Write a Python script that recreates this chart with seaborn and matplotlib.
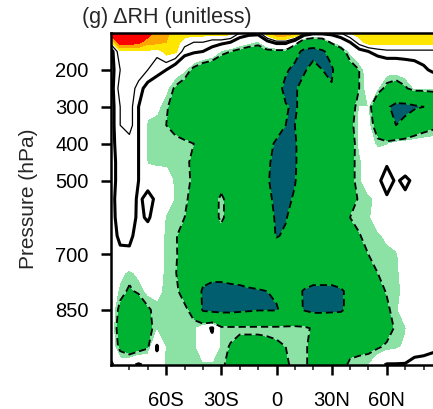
import numpy as np
import matplotlib
matplotlib.use("Agg")
import matplotlib.pyplot as plt
from matplotlib.colors import ListedColormap, BoundaryNorm
import seaborn as sns

# latitude columns (deg, S negative) and pressure levels (hPa)
lats = [-90, -85, -80, -75, -70, -65, -60, -55, -50, -45, -40, -35, -30, -25, -20, -15, -10, -5, 0,
        5, 10, 15, 20, 25, 30, 35, 40, 45, 50, 55, 60, 65, 70, 75, 80, 85, 90]
levels_hpa = [100, 125, 150, 200, 250, 300, 350, 400, 450, 500, 550, 600, 650, 700, 750, 800, 850, 900, 950, 1000]

# delta RH in hundredths, one row per pressure level
rh_100 = [12, 14, 14, 14, 12, 8, 8, 5, 5, 5, 5, 5, 5, 5, 2, 1, 1, 6, 9.9, 9.9, 8, 3, 1, 1, 1, 2, 4, 5, 5, 5, 5, 5, 5, 5, 5, 5, 5]
rh_125 = [3, 12, 12, 11, 8, 8, 7, 5, 3, 2, 2, 1, 1, 0, -2, -3, -4, -1, 1, 1, -2, -9, -10, -9, -4, -2, 0, 3, 5, 5, 5, 5, 5, 5, 5, 5, 5]
rh_150 = [-1, 3.5, 3.5, 3.5, 3.5, 2.5, 5, 4.5, 1, 0.5, 0, -1, -4, -5, -6, -7, -7, -6, -6, -6, -12, -17, -18, -16, -12, -7, -3, -1, 0, 1, 1.5, 1.5, 1.5, 1.5, 1.5, 1.5, 1.5]
rh_200 = [-1, 2, 3.5, 3.5, 2, 1, 0, -2, -3.2, -6, -8, -9, -9, -9, -9, -9, -9, -9, -10, -14, -17, -16, -12, -15, -16, -10, -7, -5, -2, -3, -2.5, -2.5, -2, -1.5, -0.5, 0.5, 1]
rh_250 = [-1, 3, 3.5, 1, -1, -2, -3, -5.5, -7, -9, -9, -9, -9, -9, -9, -9, -9, -10, -12, -17, -16, -12, -11, -13, -14.5, -10, -8, -5, -2.5, -3.4, -6, -7, -5.5, -3.4, -3.4, -3.4, -3.4]
rh_300 = [-1, 2, 3, 0, -2, -3, -4.5, -7, -9, -9, -10, -10, -10, -10, -10, -10, -10, -11, -13, -14.5, -16, -12, -10, -9, -9, -8, -7, -3.5, -3.5, -9, -14, -17, -17, -16, -15, -12, -10]
rh_350 = [-1, 2, 3, 0, -4.2, -4.2, -5, -6, -7, -7, -9, -9, -9, -9, -9, -9, -9, -10, -12, -15, -15, -11, -9, -9, -9, -9, -6, -3.2, -3, -7, -13, -15, -13, -9, -7, -6, -5.5]
rh_400 = [-1, 1.5, 1, 0, -4.2, -4.2, -4.2, -4.2, -4.5, -5, -6, -9, -9, -9, -9, -9, -9, -13, -16, -17, -16, -10, -9, -9, -9, -9, -7, -3.2, -2, -4.2, -3.8, -2.5, -2, -2, -2, -2, -2]
rh_450 = [-1, 1, 1.5, 0, -3.8, -4, -4, -4.2, -4.5, -5.5, -8, -9, -9, -9, -9, -9, -9, -14, -17, -17, -16, -10, -9, -9, -9, -9, -6, -4, -2, -1.5, -0.3, -1, -1.5, -1.5, -1.5, -1.5, -1.5]
rh_500 = [-1, 1, 1.5, 0, -1, -2, -2.2, -4, -4.2, -5.5, -9, -9, -7, -9, -9, -9, -9, -14.5, -17, -17, -15.5, -10, -9, -9, -9, -9, -6, -4, -2, -0.5, 1, -0.3, 0.5, -0.5, -1, -1, -1]
rh_550 = [-1, 1.5, 1.5, -0.5, 0.8, -0.5, -2.2, -3.8, -4.5, -6, -9, -7, -4.2, -7, -9, -9, -9, -13, -17, -17, -14, -10, -9, -9, -9, -9, -7, -4.5, -4, -3, -0.3, -0.5, -0.5, -0.5, -1, -1, -1]
rh_600 = [-1, 1.2, 1.2, -0.5, 0.3, -1, -3.8, -4.2, -5, -7, -9, -7, -4.2, -7, -9, -9, -9, -12, -16, -15.5, -12, -10, -9, -9, -9, -8, -5, -4.2, -4, -2, -1.5, -1, -1, -1, -1, -1, -1]
rh_650 = [-1, 0.5, 0.6, -1, -1, -2, -4, -4.6, -7, -9, -9, -9, -7, -9, -9, -9, -9, -11, -15.5, -14, -11, -10, -9, -9, -9, -9, -7, -5.2, -4, -4, -3, -1.5, -1, -1, -1, -1, -1]
rh_700 = [-1, -0.5, -0.5, -1, -1.5, -2, -4, -4.5, -7, -9, -9, -9, -9, -9, -9, -9, -9, -9, -10, -10, -9, -9, -9, -9, -9, -9, -8, -7, -5, -4, -4.2, -4, -1.5, -1, -1, -1, -1]
rh_750 = [-1.5, -3, -4, -3, -2.5, -2.5, -4, -4.8, -7, -10, -12, -13, -13, -12, -12, -11, -11, -10, -10, -10, -10, -11, -11, -11, -11, -10, -10, -8, -6, -5, -4, -4, -2.5, -1, -1, -1, -1]
rh_800 = [-2, -4, -5.5, -4.5, -3, -3, -4, -4.5, -6, -10, -16, -17, -17, -17, -16.5, -16, -15.5, -15, -14, -13, -13, -15.5, -17, -17, -17, -16, -13, -10, -8, -6, -4.8, -4, -3, -1, -1, -1, -1]
rh_850 = [-2, -6, -9, -8, -5.5, -4, -4.2, -4.2, -4.5, -6, -16, -17, -17, -17, -16.5, -16, -15.5, -15.5, -15.5, -13, -12, -15.5, -17, -17, -16.5, -16, -13, -9, -8, -7, -5.5, -4, -2, -1, -1, -1, -1]
rh_900 = [-2, -7, -10, -9, -6, -4, -4.2, -4.2, -4.2, -4.2, -1.5, 0.3, -4.2, -4.2, -4.2, -4.2, -4.2, -4.2, -4.2, -4.2, -4.2, -4.2, -5.5, -5.5, -6.5, -8, -10, -10, -9, -8, -6.5, -4.5, -3.8, -1, -1, -1, -1]
rh_950 = [-2, -6, -8, -7, -5.5, 0.3, -4, -4.2, -4.2, -4.2, -1.5, -1, -4.2, -5.2, -6.5, -6.5, -6.5, -6, -5.5, -5, -4.2, -4.5, -6, -7, -7, -7, -6, -6, -6, -5.5, -4.5, -4.2, -3, -0.7, -0.5, -0.4, -0.3]
rh_1000 = [0.5, -2, -1, 0.5, -1, -1, -4, -4.2, -4.2, -4.2, -4, -4, -4.2, -6.5, -7, -7, -7, -6.5, -6, -5.5, -4.2, -4.5, -6, -6, -6, -6, -4.5, -4, -3.5, -1, 0.3, 0.3, 0.3, 0.5, 0.5, 0.8, 1]

rows = [rh_100, rh_125, rh_150, rh_200, rh_250, rh_300, rh_350, rh_400, rh_450, rh_500,
        rh_550, rh_600, rh_650, rh_700, rh_750, rh_800, rh_850, rh_900, rh_950, rh_1000]
field = np.array(rows, dtype=float) / 100.0

fill_bounds = [-1.0, -0.15, -0.05, -0.035, 0.04, 0.07, 0.10, 1.0]
fill_colors = ["#005e6e", "#00b232", "#8ce1a5", "#ffffff", "#ffe600", "#ffa500", "#ff0000"]
xtick_pos = [-60, -30, 0, 30, 60]
xtick_lab = ["60S", "30S", "0", "30N", "60N"]
ytick_pos = [200, 300, 400, 500, 700, 850]

sns.set_style("ticks")
plt.rcParams["font.family"] = ["Liberation Sans", "DejaVu Sans"]

fig = plt.figure(figsize=(4.33, 4.09), dpi=100)
ax = fig.add_axes([111 / 433, 44 / 409, 331 / 433, 332 / 409])

lon2d, p2d = np.meshgrid(lats, levels_hpa)
cmap = ListedColormap(fill_colors)
norm = BoundaryNorm(fill_bounds, cmap.N)
ax.contourf(lon2d, p2d, field, levels=fill_bounds, cmap=cmap, norm=norm)

ax.contour(lon2d, p2d, field, levels=[-0.15, -0.05], colors="black",
           linewidths=1.3, linestyles=[(0, (4, 2.2))])
ax.contour(lon2d, p2d, field, levels=[0.0], colors="black", linewidths=2.2, linestyles="solid")
ax.contour(lon2d, p2d, field, levels=[0.02], colors="black", linewidths=0.9, linestyles="solid")

ax.set_xlim(-90, 90)
ax.set_ylim(1000, 100)
ax.set_xticks(xtick_pos)
ax.set_xticklabels(xtick_lab)
ax.set_xticks(np.arange(-80, 90, 10), minor=True)
ax.set_yticks(ytick_pos)
ax.set_yticklabels([str(v) for v in ytick_pos])
ax.tick_params(axis="both", which="major", direction="out", length=7.5, width=1.8,
               labelsize=14.5, pad=8.5, color="black", labelcolor="black")
ax.tick_params(axis="x", which="major", pad=11)
ax.tick_params(axis="x", which="minor", direction="out", length=3.5, width=1.2)
ax.tick_params(axis="y", which="minor", left=False)
for s in ax.spines.values():
    s.set_linewidth(1.8)
    s.set_color("black")

ax.set_ylabel("Pressure (hPa)", fontsize=15)
ax.yaxis.set_label_coords(-0.2205, 0.5)
fig.text(82 / 433, 1 - 18 / 409, "(g) \u0394RH (unitless)", ha="left", va="center", fontsize=15.5)

fig.savefig("out.png", dpi=100)
